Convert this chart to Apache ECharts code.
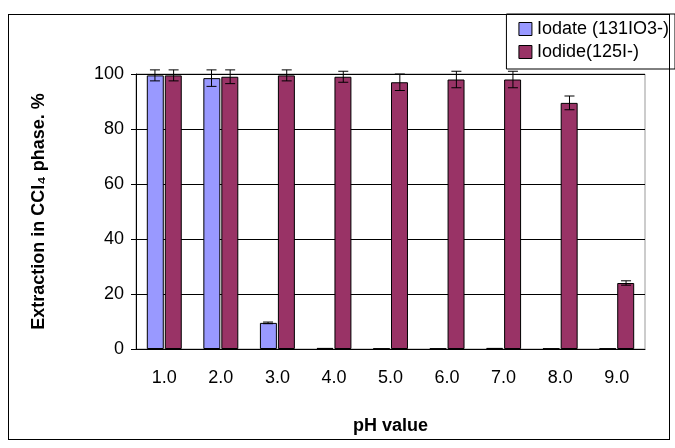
<!DOCTYPE html>
<html><head><meta charset="utf-8">
<script src="https://cdn.jsdelivr.net/npm/echarts@6/dist/echarts.min.js"></script>
<style>body{margin:0;background:#fff}#main{width:675px;height:448px;}
#frame{position:absolute;left:8px;top:14px;width:660px;height:424px;border:1px solid #000;pointer-events:none}</style>
</head><body><div id="main"></div><div id="frame"></div>
<script>
var categories = ['1.0','2.0','3.0','4.0','5.0','6.0','7.0','8.0','9.0'];
var iodate = [99.5, 98.5, 9.5, 0.4, 0.2, 0.2, 0.4, 0.2, 0.2];
var iodateErr = [2, 3, 0.3, 0, 0, 0, 0, 0, 0];
var iodide = [99.5, 99, 99.5, 99, 97, 98, 98, 89.5, 24];
var iodideErr = [2, 2.5, 2, 2, 3, 3, 3, 2.5, 0.8];

var myChart = echarts.init(document.getElementById('main'));

function errSeries(vals, errs, idx) {
    return {
        type: 'custom', z: 10, silent: true,
        data: vals.map(function (v, i) { return [i, v, errs[i]]; }),
        renderItem: function (params, api) {
            var i = api.value(0), v = api.value(1), e = api.value(2);
            if (!e) return null;
            var c = api.coord([i, v]);
            var band = api.size([1, 0])[0];
            var off = (idx === 0 ? -1 : 1) * band * 0.165;
            var x = c[0] + off;
            var top = api.coord([i, v + e])[1], bot = api.coord([i, v - e])[1];
            var w = 5;
            var st = { stroke: '#000', lineWidth: 1 };
            return { type: 'group', children: [
                { type: 'line', shape: { x1: x, y1: top, x2: x, y2: bot }, style: st },
                { type: 'line', shape: { x1: x - w, y1: top, x2: x + w, y2: top }, style: st },
                { type: 'line', shape: { x1: x - w, y1: bot, x2: x + w, y2: bot }, style: st }
            ]};
        }
    };
}

option = {
    animation: false,
    textStyle: { fontFamily: 'Liberation Sans, Arial' },
    grid: { left: 136, right: 30, top: 74, bottom: 99, show: true, borderColor: '#999', borderWidth: 1 },
    legend: {
        right: 0, top: 14, orient: 'vertical', itemWidth: 13, itemHeight: 13, itemGap: 5, icon: 'rect',
        padding: [6, 6, 8, 12], borderColor: '#000', borderWidth: 1, backgroundColor: '#fff',
        textStyle: { fontSize: 18, color: '#000' },
        data: [{ name: 'Iodate (131IO3-)', itemStyle: { borderColor: '#000', borderWidth: 1 } },
               { name: 'Iodide(125I-)', itemStyle: { borderColor: '#000', borderWidth: 1 } }]
    },
    xAxis: {
        type: 'category', data: categories,
        name: 'pH value', nameLocation: 'middle', nameGap: 68,
        nameTextStyle: { fontSize: 18, fontWeight: 'bold', color: '#000' },
        axisLine: { lineStyle: { color: '#000' } },
        axisTick: { lineStyle: { color: '#000' }, length: 6 },
        axisLabel: { fontSize: 18, color: '#000', margin: 20 }
    },
    yAxis: {
        type: 'value', min: 0, max: 100, interval: 20,
        name: 'Extraction in CCl\u2084 phase. %', nameLocation: 'middle', nameGap: 88,
        nameTextStyle: { fontSize: 18, fontWeight: 'bold', color: '#000' },
        axisLine: { show: true, lineStyle: { color: '#000' } },
        axisTick: { show: true, inside: false, length: 5, lineStyle: { color: '#000' } },
        axisLabel: { fontSize: 18, color: '#000', margin: 12 },
        splitLine: { lineStyle: { color: '#000' } }
    },
    series: [
        { name: 'Iodate (131IO3-)', type: 'bar', data: iodate, barWidth: '30%', barGap: '6%',
          itemStyle: { color: '#9999ff', borderColor: '#000', borderWidth: 1 } },
        { name: 'Iodide(125I-)', type: 'bar', data: iodide, barWidth: '30%',
          itemStyle: { color: '#993366', borderColor: '#000', borderWidth: 1 } },
        errSeries(iodate, iodateErr, 0),
        errSeries(iodide, iodideErr, 1)
    ]
};
myChart.setOption(option, true);
</script></body></html>
